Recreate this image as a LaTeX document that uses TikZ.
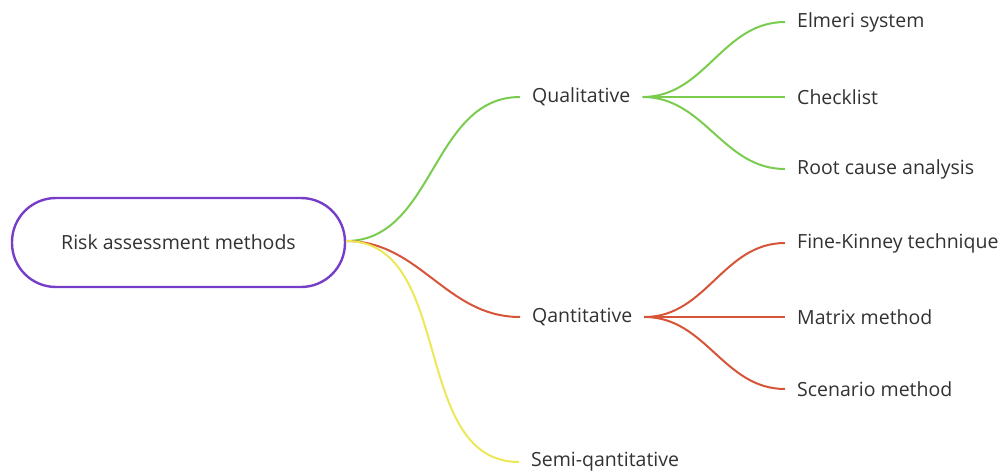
\documentclass[tikz,border=0pt]{standalone}
\usepackage{fontspec}
\setmainfont{Open Sans}
\definecolor{rootc}{RGB}{118,62,200}
\definecolor{greenc}{RGB}{122,204,78}
\definecolor{redc}{RGB}{214,84,56}
\definecolor{yellowc}{RGB}{236,232,88}
\definecolor{txt}{RGB}{50,50,50}
\begin{document}
\begin{tikzpicture}[x=1pt,y=-1pt,
  every node/.style={text=txt,font=\fontsize{19.5}{23}\selectfont},
  rootbox/.style={draw=rootc,line width=2.4pt,rounded corners=44pt,minimum width=333pt,minimum height=89pt,fill=white},
  midlabel/.style={anchor=west,inner xsep=12pt,inner ysep=2pt},
  leaflabel/.style={anchor=west,inner xsep=12pt,inner ysep=2pt},
  link/.style={line width=2pt,out=0,in=180}
]
\useasboundingbox (0,0) rectangle (1008,473);
\node[rootbox] (root) at (178.5,242.5) {Risk assessment methods};
\coordinate (hub) at (346,241);
\node[midlabel] (qual) at (520,97) {Qualitative};
\node[midlabel] (quan) at (520,317) {Qantitative};
\node[midlabel] (semi) at (519,462) {Semi-qantitative};
\node[leaflabel] (l1) at (785,22) {Elmeri system};
\node[leaflabel] (l2) at (785,97) {Checklist};
\node[leaflabel] (l3) at (785,169) {Root cause analysis};
\node[leaflabel] (l4) at (785,243) {Fine-Kinney technique};
\node[leaflabel] (l5) at (785,317) {Matrix method};
\node[leaflabel] (l6) at (785,389) {Scenario method};
\draw[link,greenc] (hub) to (qual.west);
\draw[link,redc] (hub) to (quan.west);
\draw[link,yellowc] (hub) to (semi.west);
\draw[link,greenc] (qual.east) to (l1.west);
\draw[link,greenc] (qual.east) to (l2.west);
\draw[link,greenc] (qual.east) to (l3.west);
\draw[link,redc] (quan.east) to (l4.west);
\draw[link,redc] (quan.east) to (l5.west);
\draw[link,redc] (quan.east) to (l6.west);
\end{tikzpicture}
\end{document}
